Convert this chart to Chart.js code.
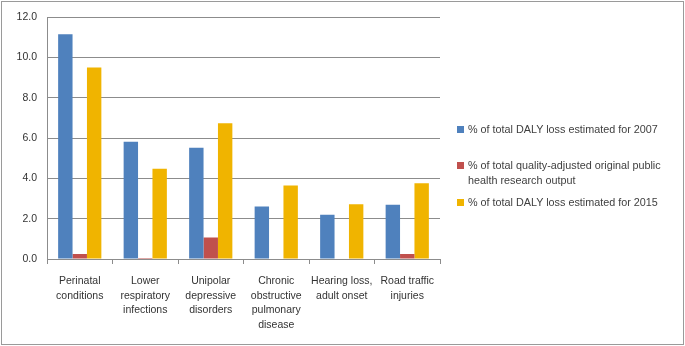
<!DOCTYPE html>
<html>
<head>
<meta charset="utf-8">
<script src="https://cdn.jsdelivr.net/npm/chart.js@4.4.0/dist/chart.umd.min.js"></script>
<style>
  html, body { margin: 0; padding: 0; background: #fff; }
  #wrap { position: relative; width: 685px; height: 346px; }
  #frame { position: absolute; left: 1px; top: 1px; width: 681px; height: 342px; border: 1px solid #9a9a9a; pointer-events: none; }
  #legend { position: absolute; left: 457px; top: 120px; width: 225px; font-family: "Liberation Sans", Arial, sans-serif; font-size: 10.8px; color: #404040; }
  .item { position: absolute; left: 0; width: 225px; line-height: 15px; }
  .swatch { position: absolute; left: 0; top: 4px; width: 7px; height: 7px; }
  .txt { margin-left: 11px; }
</style>
</head>
<body>
<div id="wrap">
  <canvas id="chart" width="685" height="346"></canvas>
  <div id="legend"></div>
  <div id="frame"></div>
</div>
<script>
// Categories and series
const categories = [
    ['Perinatal', 'conditions'],
    ['Lower', 'respiratory', 'infections'],
    ['Unipolar', 'depressive', 'disorders'],
    ['Chronic', 'obstructive', 'pulmonary', 'disease'],
    ['Hearing loss,', 'adult onset'],
    ['Road traffic', 'injuries']
];
const daly2007 = [11.15, 5.82, 5.52, 2.61, 2.2, 2.69];
const researchOutput = [0.25, 0.05, 1.07, 0, 0, 0.25];
const daly2015 = [9.5, 4.48, 6.74, 3.65, 2.72, 3.76];
const yTicks = [0, 2, 4, 6, 8, 10, 12];

const seriesLabels = [
    '% of total DALY loss estimated for 2007',
    '% of total quality-adjusted original public health research output',
    '% of total DALY loss estimated for 2015'
];
const seriesColors = ['#4f81bd', '#c0504d', '#f0b400'];
const legendTops = [2, 38, 75];
const legendLines = [
    [seriesLabels[0]],
    ['% of total quality-adjusted original public', 'health research output'],
    [seriesLabels[2]]
];

const labelFont = { family: '"Liberation Sans", Arial, sans-serif', size: 10.5, lineHeight: 1.38 };

const chart = new Chart(document.getElementById('chart').getContext('2d'), {
    type: 'bar',
    data: {
        labels: categories,
        datasets: [daly2007, researchOutput, daly2015].map((values, i) => ({
            label: seriesLabels[i],
            data: values,
            backgroundColor: seriesColors[i],
            borderWidth: 0
        }))
    },
    options: {
        responsive: false,
        animation: false,
        layout: { padding: { top: 15, right: 245, bottom: 0, left: 0 } },
        datasets: { bar: { categoryPercentage: 0.66, barPercentage: 1.0 } },
        plugins: { legend: { display: false }, tooltip: { enabled: false } },
        scales: {
            x: {
                grid: { drawOnChartArea: false, drawTicks: true, tickLength: 5, color: '#8c8c8c', offset: true },
                border: { color: '#8c8c8c' },
                ticks: { color: '#333333', font: labelFont, padding: 10, maxRotation: 0, autoSkip: false },
                afterFit: scale => { scale.height = 87; }
            },
            y: {
                min: 0,
                max: 12,
                afterBuildTicks: scale => { scale.ticks = yTicks.map(v => ({ value: v })); },
                grid: { color: '#8c8c8c', drawTicks: false },
                border: { color: '#8c8c8c' },
                ticks: { color: '#333333', font: labelFont, padding: 10, callback: v => v.toFixed(1) },
                afterFit: scale => { scale.width = 47; }
            }
        }
    }
});

// HTML legend on the right
const legend = document.getElementById('legend');
legendLines.forEach((lines, i) => {
    const item = document.createElement('div');
    item.className = 'item';
    item.style.top = legendTops[i] + 'px';
    item.innerHTML = `<span class="swatch" style="background:${seriesColors[i]}"></span>` +
        `<div class="txt">${lines.join('<br>')}</div>`;
    legend.appendChild(item);
});
</script>
</body>
</html>
